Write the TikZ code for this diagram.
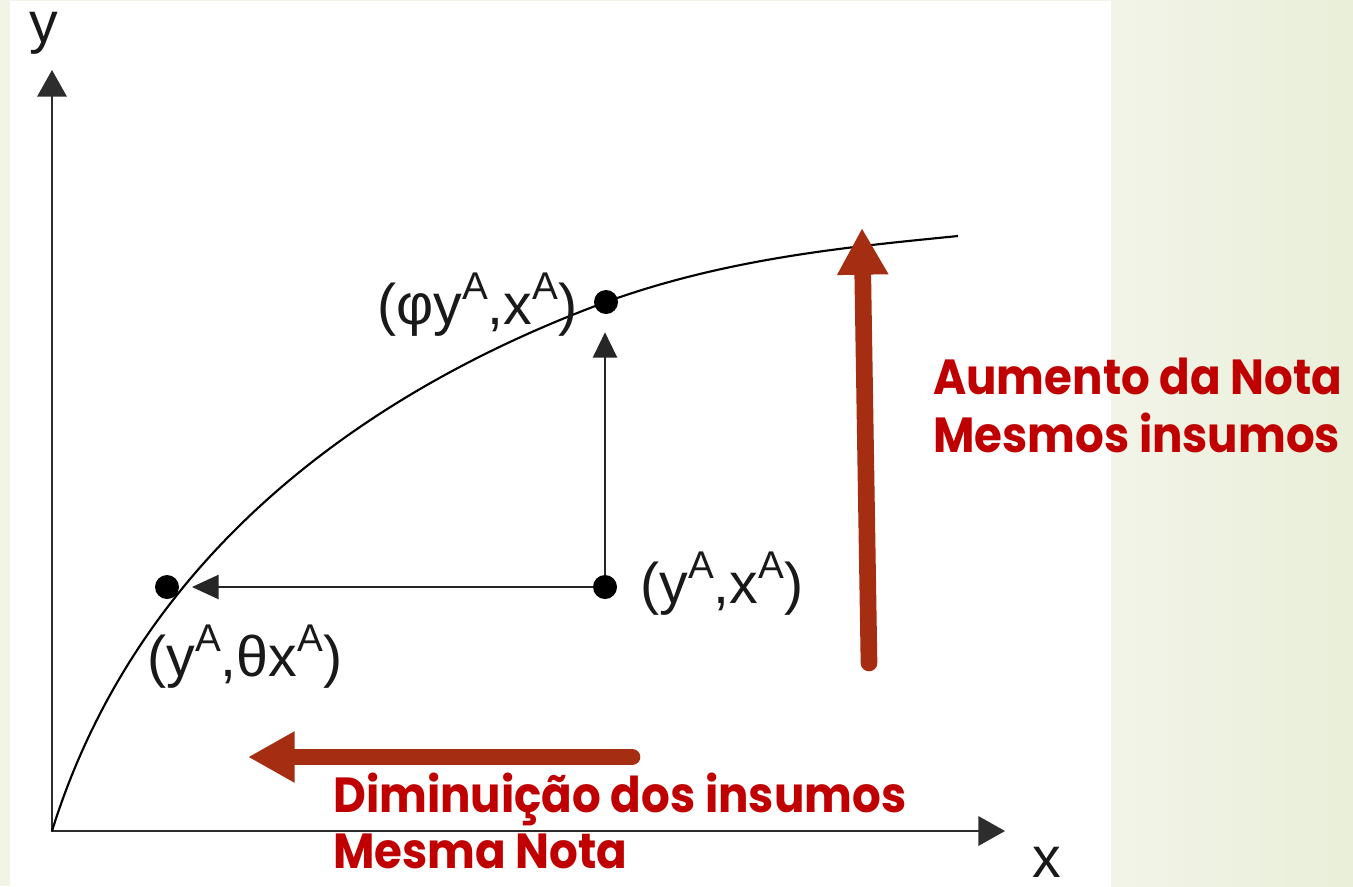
\documentclass[tikz,border=0pt]{standalone}
\usepackage{fontspec}
\setmainfont{Liberation Sans}
\newfontfamily\redfont{Poppins}
\usetikzlibrary{arrows.meta}
\definecolor{arrowred}{RGB}{165,46,18}
\definecolor{textred}{RGB}{192,0,0}
\definecolor{bgL}{RGB}{242,244,232}
\definecolor{bgR}{RGB}{233,239,217}
\definecolor{axisgray}{RGB}{45,45,45}
\newcommand\supA{\raisebox{0.42em}{\fontsize{29}{29}\selectfont A}}
\newcommand\narrow[1]{\scalebox{0.915}[1]{#1}}
\begin{document}
\begin{tikzpicture}[x=0.75pt,y=-0.75pt,
  axis/.style={draw=axisgray, line width=1.9pt, line join=miter},
  curve/.style={draw=black, line width=1.6pt},
  blk/.style={draw=black!85, line width=1.7pt},
  dot/.style={circle, fill=black, minimum size=18pt, inner sep=0pt},
  lab/.style={font=\fontsize{43}{48}\selectfont, inner sep=0pt, text=black!90},
  rt/.style={font=\redfont\bfseries\fontsize{37}{43}\selectfont, text=textred, inner sep=0pt},
  bigarrow/.style={draw=arrowred, line width=12.5pt, line cap=round,
    -{Triangle[length=35pt,width=36pt]}}
]
\useasboundingbox (0,0) rectangle (1353,886);
\fill[bgL] (0,0) rectangle (1353,886);
\shade[left color=bgL, right color=bgR] (1111,0) rectangle (1353,886);
\fill[white] (10,1) rectangle (1111,886);

% axes
\coordinate (O) at (52,831);
\coordinate (Ytip) at (52,70);
\coordinate (Xtip) at (1005,831);
\draw[axis, {Triangle[length=20pt,width=22pt]}-{Triangle[length=20pt,width=22pt]}] (Ytip) -- (O) -- (Xtip);
\node[lab, anchor=base] (ylab) at (44,42) {y};
\node[lab, anchor=base] (xlab) at (1047,877) {x};

% points
\node[dot] (A) at (605,587) {};
\node[dot] (B) at (606,302) {};
\node[dot] (C) at (167,587) {};

% frontier curve
\draw[curve] (O) .. controls (147,526) and (408,375) .. (B.center)
  .. controls (728,258) and (848,247) .. (958,236);

% black arrows
\draw[blk, -{Triangle[length=19pt,width=18pt]}, shorten >=13.5pt] (A) -- (A |- B.south);
\draw[blk, -{Triangle[length=20pt,width=18pt]}, shorten >=9.5pt] (A) -- (C);

% labels
\node[lab, anchor=base west] (LA) at (640,603) {(y\supA,x\supA)};
\node[lab, anchor=base west] (LB) at (377,324) {(φy\supA,x\supA)};
\node[lab, anchor=base west] (LC) at (147,676) {(y\supA,θx\supA)};

% red arrows
\coordinate (r1s) at (869,663);
\coordinate (r1e) at (862,228);
\coordinate (r2s) at (632,757);
\coordinate (r2e) at (248,757);
\draw[bigarrow] (r1s) -- (r1e);
\draw[bigarrow] (r2s) -- (r2e);

% red texts
\node[rt, anchor=base west] (t1) at (933,394) {\narrow{Aumento da Nota}};
\node[rt, anchor=base west] (t2) at (933,452) {\narrow{Mesmos insumos}};
\node[rt, anchor=base west] (t3) at (333,812) {\narrow{Diminuição dos insumos}};
\node[rt, anchor=base west] (t4) at (333,868) {\narrow{Mesma Nota}};
\end{tikzpicture}
\end{document}
